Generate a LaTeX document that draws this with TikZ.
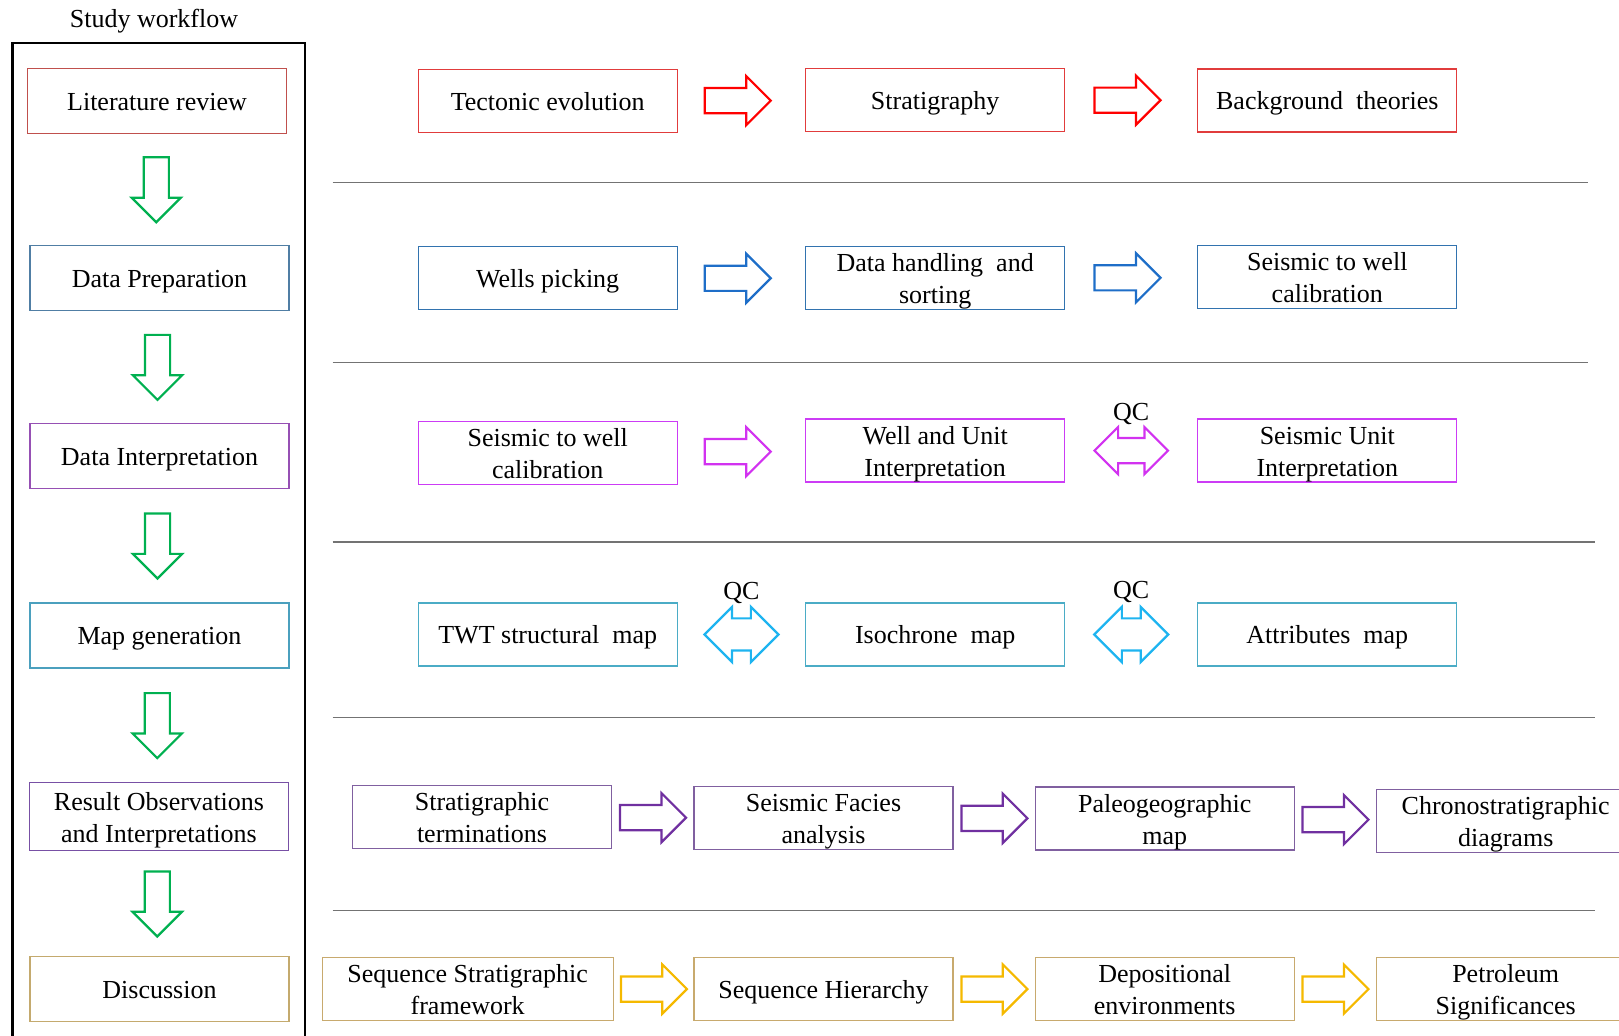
\documentclass[tikz,border=0pt]{standalone}
\usepackage{fontspec}
\setmainfont{Liberation Serif}
\usetikzlibrary{shapes.arrows, calc, positioning}

\definecolor{litred}{RGB}{192,80,77}
\definecolor{redbox}{RGB}{225,60,60}
\definecolor{redarr}{RGB}{255,0,0}
\definecolor{prepblue}{RGB}{80,126,164}
\definecolor{bluebox}{RGB}{50,115,175}
\definecolor{bluearr}{RGB}{30,110,200}
\definecolor{intpurple}{RGB}{150,80,180}
\definecolor{magbox}{RGB}{204,60,245}
\definecolor{magarr}{RGB}{210,50,240}
\definecolor{mapteal}{RGB}{75,160,190}
\definecolor{cyanbox}{RGB}{75,172,198}
\definecolor{cyanarr}{RGB}{30,180,240}
\definecolor{respurple}{RGB}{120,80,165}
\definecolor{violbox}{RGB}{128,96,160}
\definecolor{violarr}{RGB}{112,48,160}
\definecolor{disctan}{RGB}{196,170,110}
\definecolor{goldbox}{RGB}{200,170,110}
\definecolor{goldarr}{RGB}{245,185,0}
\definecolor{wfgreen}{RGB}{0,176,80}

\begin{document}
\begin{tikzpicture}[
  x=0.5pt, y=-0.5pt, font=\fontsize{13}{16}\selectfont,
  bx/.style={rectangle, draw=#1, line width=0.65pt, align=center, minimum width=129.5pt, minimum height=31.5pt, inner sep=0pt,
    execute at end node={\rule[-2.3pt]{0pt}{14.4pt}}},
  tw/.style={inner ysep=-1pt, execute at end node={\rule[-2.8pt]{0pt}{31.2pt}}},
  lbx/.style={bx=#1, minimum height=32.5pt},
  ra/.style={single arrow, draw=#1, line width=1.1pt, inner sep=5.75pt, single arrow head extend=6pt, minimum height=33pt},
  rr/.style={ra=#1, xshift=-3pt},
  da/.style={double arrow, draw=#1, line width=1.1pt, inner sep=5.75pt, double arrow head extend=5.5pt, minimum height=36.75pt},
  dw/.style={ra=wfgreen, rotate=-90, minimum height=32.5pt, xshift=-3pt, yshift=-1pt},
  sep/.style={draw=black!55, line width=0.6pt},
  frame/.style={draw=black, line width=1.1pt}]
\useasboundingbox (0,0) rectangle (1619,1036);

% ---- Study workflow column ----
\node (title) at (154,21.5) {Study workflow};
\draw[frame] (12.4,1060) |- (304.6,43.4) -- (304.6,1060);
\node[lbx=litred] (lit) at (157,100.7) {Literature review};
\node[lbx=prepblue] (prep) at (159.5,278.3) {Data Preparation};
\node[lbx=intpurple] (interp) at (159.5,455.9) {Data Interpretation};
\node[lbx=mapteal] (mapg) at (159.5,635.5) {Map generation};
\node[lbx=respurple, tw, minimum height=34pt] (res) at (159,816.7) {Result Observations\\and Interpretations};
\node[lbx=disctan] (disc) at (159.5,989.1) {Discussion};
\node[dw] (g1) at ($(lit.south)!0.5!(prep.north)$) {};
\node[dw] (g2) at ($(prep.south)!0.5!(interp.north)$) {};
\node[dw] (g3) at ($(interp.south)!0.5!(mapg.north)$) {};
\node[dw] (g4) at ($(mapg.south)!0.5!(res.north)$) {};
\node[dw] (g5) at ($(res.south)!0.5!(disc.north)$) {};

% ---- Row 1: literature ----
\node[bx=redbox] (tect) at (547.7,101.2) {Tectonic evolution};
\node[bx=redbox] (strat) at (935.2,100) {Stratigraphy};
\node[bx=redbox] (bgth) at (1327.3,100.5) {Background\ \ theories};
\node[rr=redarr, xshift=-2pt] (a11) at ($(tect.east)!0.5!(strat.west)$) {};
\node[rr=redarr, xshift=-2pt] (a12) at ($(strat.east)!0.5!(bgth.west)$) {};
\draw[sep] (332.5,182.7) -- (1588,182.7);

% ---- Row 2: data preparation ----
\node[bx=bluebox] (wpick) at (547.7,278.3) {Wells picking};
\node[bx=bluebox, tw] (dhand) at (935.2,278.3) {Data handling\ \ and\\sorting};
\node[bx=bluebox, tw] (swc) at (1327.3,277.3) {Seismic to well\\calibration};
\node[rr=bluearr, xshift=-2pt] (a21) at ($(wpick.east)!0.5!(dhand.west)$) {};
\node[rr=bluearr, xshift=-2pt] (a22) at ($(dhand.east)!0.5!(swc.west)$) {};
\draw[sep] (332.5,362.4) -- (1588,362.4);

% ---- Row 3: interpretation ----
\node[bx=magbox, tw] (swcal) at (547.7,452.7) {Seismic to well\\calibration};
\node[bx=magbox, tw] (wui) at (935.2,450.6) {Well and Unit\\Interpretation};
\node[bx=magbox, tw] (sui) at (1327.3,450.6) {Seismic Unit\\Interpretation};
\node[rr=magarr, xshift=-2pt] (a31) at ($(swcal.east)!0.5!(wui.west)$) {};
\node[da=magarr] (a32) at ($(wui.east)!0.5!(sui.west)$) {};
\node (qc1) at ($(a32)+(0,-37)$) {QC};
\draw[sep] (332.5,542) -- (1595,542);

% ---- Row 4: maps ----
\node[bx=cyanbox] (twt) at (547.7,634.5) {TWT structural\ \ map};
\node[bx=cyanbox] (iso) at (935.2,634.5) {Isochrone\ \ map};
\node[bx=cyanbox] (attr) at (1327.3,634.5) {Attributes\ \ map};
\node[da=cyanarr, inner sep=7.5pt, double arrow head extend=5.75pt, minimum height=37pt] (a41) at ($(twt.east)!0.5!(iso.west)$) {};
\node[da=cyanarr, inner sep=7.5pt, double arrow head extend=5.75pt, minimum height=37pt] (a42) at ($(iso.east)!0.5!(attr.west)$) {};
\node (qc2) at ($(a41)+(0,-41)$) {QC};
\node (qc3) at ($(a42)+(0,-42)$) {QC};
\draw[sep] (332.5,717.6) -- (1595,717.6);

% ---- Row 5: results ----
\node[bx=violbox, tw] (sterm) at (482,817.2) {Stratigraphic\\terminations};
\node[bx=violbox, tw] (sfa) at (823.5,818.2) {Seismic Facies\\analysis};
\node[bx=violbox, tw] (paleo) at (1164.7,818.5) {Paleogeographic\\map};
\node[bx=violbox, tw] (chrono) at (1505.7,820.8) {Chronostratigraphic\\diagrams};
\node[rr=violarr] (a51) at ($(sterm.east)!0.5!(sfa.west)$) {};
\node[rr=violarr] (a52) at ($(sfa.east)!0.5!(paleo.west)$) {};
\node[rr=violarr] (a53) at ($(paleo.east)!0.5!(chrono.west)$) {};
\draw[sep] (332.5,910.6) -- (1595,910.6);

% ---- Row 6: discussion ----
\node[bx=goldbox, tw, minimum width=145.5pt] (ssf) at (467.7,989.1) {Sequence Stratigraphic\\framework};
\node[bx=goldbox] (shier) at (823.5,989.1) {Sequence Hierarchy};
\node[bx=goldbox, tw] (depo) at (1164.7,989.1) {Depositional\\environments};
\node[bx=goldbox, tw] (petro) at (1505.7,989.1) {Petroleum\\Significances};
\node[rr=goldarr] (a61) at ($(ssf.east)!0.5!(shier.west)$) {};
\node[rr=goldarr] (a62) at ($(shier.east)!0.5!(depo.west)$) {};
\node[rr=goldarr] (a63) at ($(depo.east)!0.5!(petro.west)$) {};
\end{tikzpicture}
\end{document}
